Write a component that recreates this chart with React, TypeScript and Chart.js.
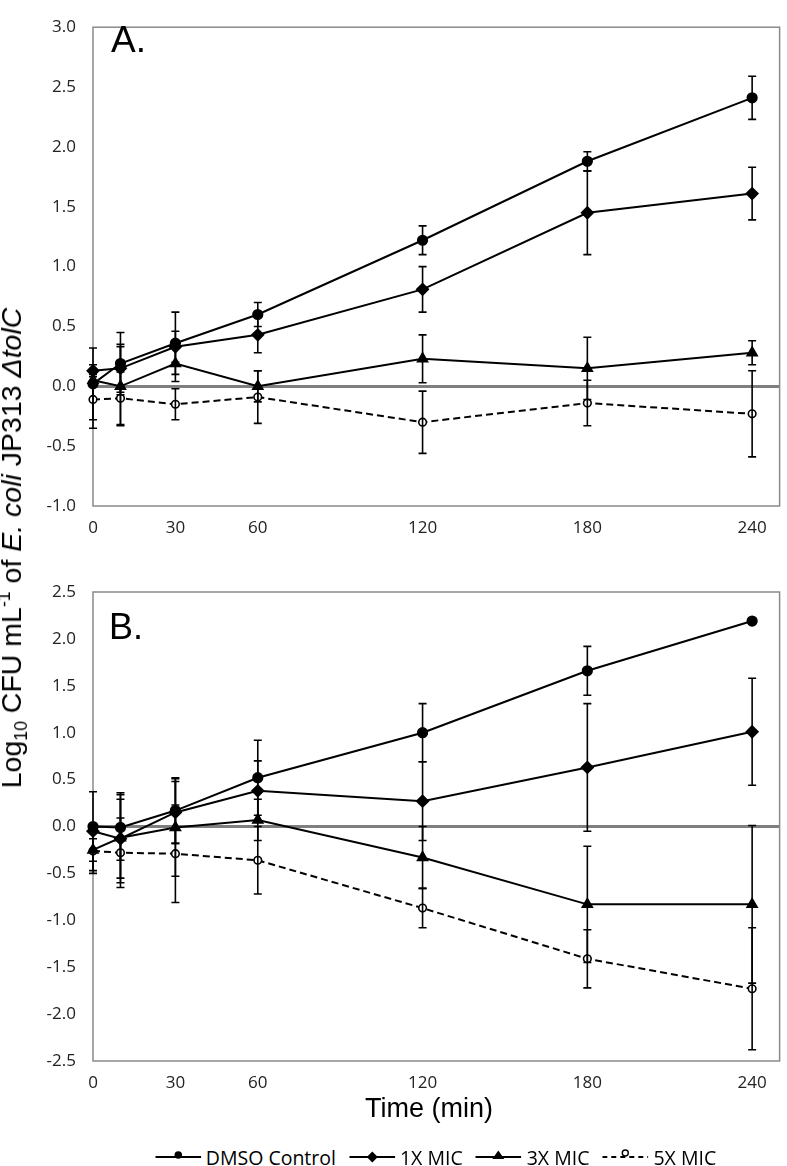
import React, { useEffect, useRef } from 'react';
import { Chart, registerables } from 'chart.js';

Chart.register(...registerables);

// ---------- data ----------
const TIMES = [0, 10, 30, 60, 120, 180, 240];
const X_TICKS = [0, 30, 60, 120, 180, 240];
const SERIES_NAMES = ['DMSO Control', '1X MIC', '3X MIC', '5X MIC'];

// Panel A
const A_DMSO = [0.02, 0.19, 0.36, 0.6, 1.22, 1.88, 2.41];
const A_DMSO_ERR = [0.3, 0.26, 0.26, 0.1, 0.12, 0.08, 0.18];
const A_1X = [0.13, 0.15, 0.33, 0.43, 0.81, 1.45, 1.61];
const A_1X_ERR = [0.05, 0.2, 0.13, 0.15, 0.19, 0.35, 0.22];
const A_3X = [0.05, 0.0, 0.19, 0.0, 0.23, 0.15, 0.28];
const A_3X_ERR = [0.05, 0.33, 0.15, 0.13, 0.2, 0.26, 0.1];
const A_5X = [-0.11, -0.1, -0.15, -0.09, -0.3, -0.14, -0.23];
const A_5X_ERR = [0.24, 0.22, 0.13, 0.22, 0.26, 0.19, 0.36];

// Panel B
const B_DMSO = [0.0, -0.01, 0.17, 0.52, 1.0, 1.66, 2.19];
const B_DMSO_ERR = [0.37, 0.35, 0.35, 0.4, 0.31, 0.26, 0.03];
const B_1X = [-0.05, -0.13, 0.15, 0.38, 0.27, 0.63, 1.01];
const B_1X_ERR = [0.08, 0.42, 0.33, 0.32, 0.42, 0.68, 0.57];
const B_3X = [-0.25, -0.12, -0.01, 0.07, -0.33, -0.83, -0.83];
const B_3X_ERR = [0.22, 0.48, 0.52, 0.22, 0.33, 0.62, 0.84];
const B_5X = [-0.26, -0.28, -0.29, -0.36, -0.87, -1.41, -1.73];
const B_5X_ERR = [0.24, 0.37, 0.52, 0.36, 0.21, 0.31, 0.65];

// ---------- styles ----------
const SERIES_STYLES = [
  { pointStyle: 'circle', radius: 4.8, fill: '#000', dash: [] as number[] },
  { pointStyle: 'rectRot', radius: 5.8, fill: '#000', dash: [] as number[] },
  { pointStyle: 'triangle', radius: 5.8, fill: '#000', dash: [] as number[] },
  { pointStyle: 'circle', radius: 3.8, fill: '#fff', dash: [7, 4] },
];

const TICK_FONT = { family: "'Open Sans', 'Noto Sans', sans-serif", size: 17 };
const ARIAL = "'Liberation Sans', Arial, Helvetica, sans-serif";

const errorBarPlugin = {
  id: 'errorBars',
  afterDatasetsDraw(chart: any) {
    const ctx = chart.ctx;
    const xs = chart.scales.x;
    const ys = chart.scales.y;
    chart.data.datasets.forEach((ds: any) => {
      if (!ds.errors) return;
      ctx.save();
      ctx.strokeStyle = '#000';
      ctx.lineWidth = 1.6;
      ctx.setLineDash([]);
      ds.data.forEach((p: any, i: number) => {
        const e = ds.errors[i];
        const px = xs.getPixelForValue(p.x);
        const t = ys.getPixelForValue(p.y + e);
        const b = ys.getPixelForValue(p.y - e);
        ctx.beginPath();
        ctx.moveTo(px, t);
        ctx.lineTo(px, b);
        ctx.moveTo(px - 4, t);
        ctx.lineTo(px + 4, t);
        ctx.moveTo(px - 4, b);
        ctx.lineTo(px + 4, b);
        ctx.stroke();
      });
      ctx.restore();
    });
  },
};

const framePlugin = {
  id: 'frame',
  beforeDatasetsDraw(chart: any) {
    const { ctx, chartArea: a } = chart;
    ctx.save();
    ctx.strokeStyle = '#8a8a8a';
    ctx.lineWidth = 1.5;
    ctx.strokeRect(a.left, a.top, a.right - a.left, a.bottom - a.top);
    ctx.restore();
  },
};

function buildConfig(values: number[][], errors: number[][], yMin: number, yMax: number, padTop: number) {
  const datasets = values.map((vals, si) => {
    const st = SERIES_STYLES[si];
    return {
      label: SERIES_NAMES[si],
      data: TIMES.map((t, i) => ({ x: t, y: vals[i] })),
      errors: errors[si],
      borderColor: '#000',
      borderWidth: 2,
      borderDash: st.dash,
      pointStyle: st.pointStyle,
      pointRadius: st.radius,
      pointBackgroundColor: st.fill,
      pointBorderColor: '#000',
      pointBorderWidth: 1.6,
      tension: 0,
      fill: false,
      clip: false,
    };
  });
  return {
    type: 'line',
    data: { datasets },
    plugins: [framePlugin, errorBarPlugin],
    options: {
      animation: false,
      responsive: false,
      devicePixelRatio: 1,
      layout: { padding: { top: padTop, right: 1, left: 0, bottom: 0 } },
      plugins: { legend: { display: false }, tooltip: { enabled: false } },
      scales: {
        x: {
          type: 'linear',
          min: 0,
          max: 250,
          afterBuildTicks: (axis: any) => {
            axis.ticks = X_TICKS.map((v) => ({ value: v }));
          },
          afterFit: (axis: any) => {
            axis.height = 39;
          },
          grid: { display: false, drawTicks: false },
          border: { display: false },
          ticks: { font: TICK_FONT, color: '#222', padding: 12, maxRotation: 0, autoSkip: false },
        },
        y: {
          type: 'linear',
          min: yMin,
          max: yMax,
          afterFit: (axis: any) => {
            axis.width = 93;
          },
          grid: {
            drawTicks: false,
            color: (c: any) => (c.tick && Math.abs(c.tick.value) < 1e-9 ? '#7f7f7f' : 'rgba(0,0,0,0)'),
            lineWidth: (c: any) => (c.tick && Math.abs(c.tick.value) < 1e-9 ? 3 : 0),
          },
          border: { display: false },
          ticks: {
            stepSize: 0.5,
            font: TICK_FONT,
            color: '#222',
            padding: 17,
            callback: (v: any) => Number(v).toFixed(1),
          },
        },
      },
    },
  };
}

function LegendSymbol({ idx }: { idx: number }) {
  const w = 46;
  const ly = 10;
  const st = SERIES_STYLES[idx];
  let marker: any = null;
  if (idx === 0) marker = <circle cx={w / 2} cy={ly - 2} r={3.8} fill="#000" />;
  if (idx === 1)
    marker = <polygon points={`${w / 2},${ly - 5.5} ${w / 2 + 5.5},${ly} ${w / 2},${ly + 5.5} ${w / 2 - 5.5},${ly}`} fill="#000" />;
  if (idx === 2)
    marker = <polygon points={`${w / 2},${ly - 6.5} ${w / 2 + 6},${ly + 2} ${w / 2 - 6},${ly + 2}`} fill="#000" />;
  if (idx === 3) marker = <circle cx={w / 2} cy={ly - 4} r={3} fill="#fff" stroke="#000" strokeWidth={1.4} />;
  return (
    <svg width={w} height={20} style={{ display: 'block' }}>
      <line x1={0} y1={ly} x2={w} y2={ly} stroke="#000" strokeWidth={2} strokeDasharray={st.dash.length ? '5 4' : undefined} />
      {marker}
    </svg>
  );
}

export default function App() {
  const refA = useRef<HTMLCanvasElement>(null);
  const refB = useRef<HTMLCanvasElement>(null);

  useEffect(() => {
    const a = new Chart(
      refA.current as HTMLCanvasElement,
      buildConfig([A_DMSO, A_1X, A_3X, A_5X], [A_DMSO_ERR, A_1X_ERR, A_3X_ERR, A_5X_ERR], -1, 3, 8) as any
    );
    const b = new Chart(
      refB.current as HTMLCanvasElement,
      buildConfig([B_DMSO, B_1X, B_3X, B_5X], [B_DMSO_ERR, B_1X_ERR, B_3X_ERR, B_5X_ERR], -2.5, 2.5, 32) as any
    );
    return () => {
      a.destroy();
      b.destroy();
    };
  }, []);

  const sub = { fontSize: '0.62em', position: 'relative' as const, top: '0.32em' };
  const sup = { fontSize: '0.62em', position: 'relative' as const, top: '-0.6em' };

  return (
    <div style={{ position: 'absolute', left: 0, top: 0, width: 787, height: 1166, background: '#fff', overflow: 'hidden' }}>
      <canvas ref={refA} width={787} height={545} style={{ position: 'absolute', left: 0, top: 0, width: 787, height: 545 }} />
      <canvas ref={refB} width={787} height={540} style={{ position: 'absolute', left: 0, top: 560, width: 787, height: 540 }} />

      <div style={{ position: 'absolute', left: 111, top: 21, fontFamily: ARIAL, fontSize: 37, lineHeight: '37px', color: '#000' }}>A.</div>
      <div style={{ position: 'absolute', left: 109, top: 609, fontFamily: ARIAL, fontSize: 36, lineHeight: '36px', color: '#000' }}>B.</div>

      <div style={{ position: 'absolute', left: 13, top: 548, width: 0, height: 0 }}>
        <div
          style={{
            position: 'absolute',
            left: 0,
            top: 0,
            whiteSpace: 'nowrap',
            fontFamily: ARIAL,
            fontSize: 28.5,
            lineHeight: '28px',
            color: '#000',
            transform: 'translate(-50%, -50%) rotate(-90deg)',
          }}
        >
          Log<span style={sub}>10</span> CFU mL<span style={sup}>-1</span> of <i>E. coli</i> JP313 <i>ΔtolC</i>
        </div>
      </div>

      <div
        style={{
          position: 'absolute',
          left: 429,
          top: 1095,
          transform: 'translateX(-50%)',
          whiteSpace: 'nowrap',
          fontFamily: ARIAL,
          fontSize: 27,
          lineHeight: '26px',
          color: '#000',
        }}
      >
        Time (min)
      </div>

      <div
        style={{
          position: 'absolute',
          left: 435.5,
          top: 1145,
          height: 24,
          transform: 'translateX(-50%)',
          display: 'flex',
          alignItems: 'center',
          whiteSpace: 'nowrap',
          fontFamily: "'Open Sans', 'Noto Sans', sans-serif",
          fontSize: 19.5,
          color: '#000',
        }}
      >
        {SERIES_NAMES.map((n, i) => (
          <div key={n} style={{ display: 'flex', alignItems: 'center', marginLeft: i === 0 ? 0 : 13 }}>
            <LegendSymbol idx={i} />
            <span style={{ marginLeft: 5 }}>{n}</span>
          </div>
        ))}
      </div>
    </div>
  );
}
